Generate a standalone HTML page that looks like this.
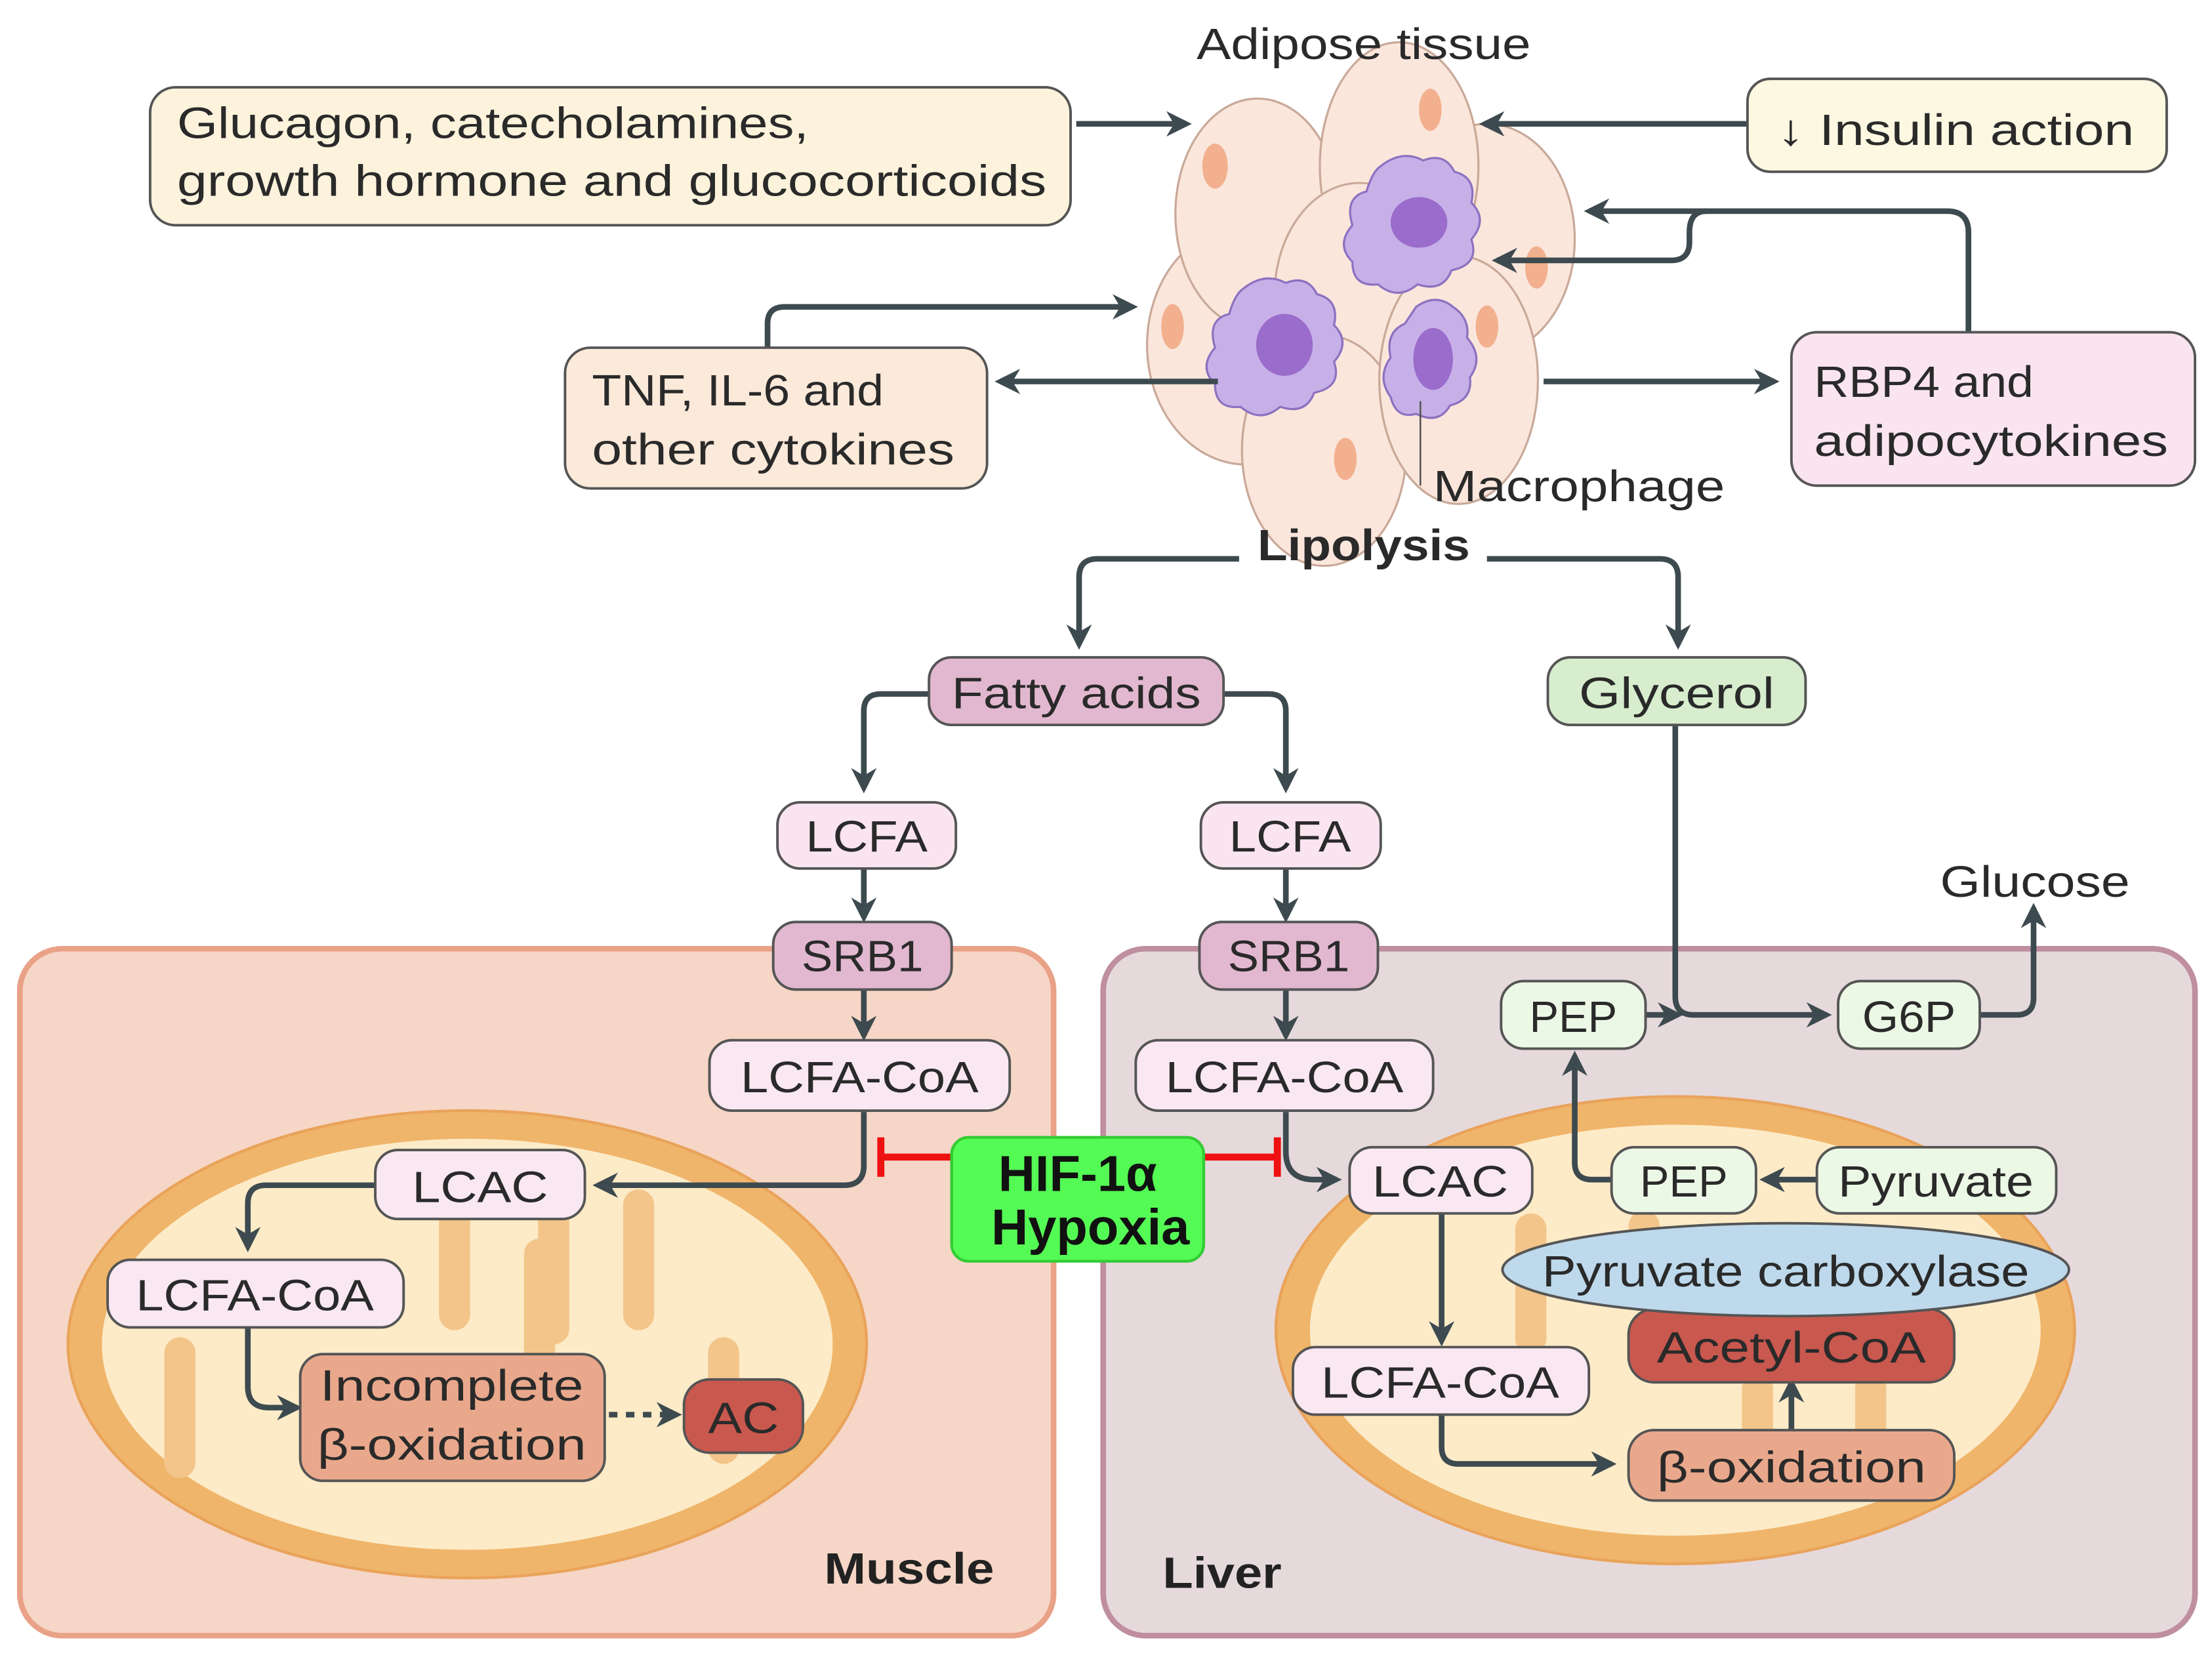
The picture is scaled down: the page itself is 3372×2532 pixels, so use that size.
<!DOCTYPE html>
<html><head><meta charset="utf-8"><style>
html,body{margin:0;padding:0;background:#fff;}
svg{display:block;}
text{font-family:"Liberation Sans",sans-serif;fill:#2a2a2a;}
</style></head><body>
<svg width="3372" height="2532" viewBox="0 0 1562 1180" preserveAspectRatio="none" xmlns="http://www.w3.org/2000/svg">
<defs>
<marker id="ah" viewBox="0 0 10 10" refX="8" refY="5" markerWidth="4.5" markerHeight="4.5" orient="auto"><path d="M0,0 L10,5 L0,10 L3,5 z" fill="#3d4a4f"/></marker>
</defs>
<rect width="1562" height="1180" fill="#fff"/>

<!-- panels -->
<rect x="14" y="674" width="730" height="488" rx="30" fill="#f6d6c6" stroke="#e9a287" stroke-width="4"/>
<rect x="779" y="674" width="771" height="488" rx="30" fill="#e6d9dc" stroke="#bf8ea0" stroke-width="4"/>

<!-- mitochondria -->
<ellipse cx="330" cy="955" rx="282" ry="166" fill="#efb56a" stroke="#e9a35a" stroke-width="2"/>
<ellipse cx="330" cy="955" rx="258" ry="146" fill="#fdebc8"/>
<g fill="#f3c58a">
<rect x="310" y="845" width="22" height="100" rx="11"/><rect x="380" y="845" width="22" height="110" rx="11"/>
<rect x="440" y="845" width="22" height="100" rx="11"/><rect x="116" y="950" width="22" height="100" rx="11"/>
<rect x="370" y="880" width="22" height="90" rx="11"/><rect x="500" y="950" width="22" height="90" rx="11"/>
</g>
<ellipse cx="1183" cy="945" rx="282" ry="166" fill="#efb56a" stroke="#e9a35a" stroke-width="2"/>
<ellipse cx="1183" cy="945" rx="258" ry="146" fill="#fdebc8"/>
<g fill="#f3c58a">
<rect x="1070" y="862" width="22" height="100" rx="11"/><rect x="1230" y="975" width="22" height="90" rx="11"/>
<rect x="1310" y="975" width="22" height="90" rx="11"/><rect x="1150" y="860" width="22" height="40" rx="11"/>
</g>

<!-- adipose cells -->
<g fill="#fbe6dc" stroke="#c9a999" stroke-width="1.5">
<ellipse cx="880" cy="245" rx="70" ry="85"/>
<ellipse cx="1050" cy="170" rx="62" ry="82"/>
<ellipse cx="888" cy="152" rx="58" ry="82"/>
<ellipse cx="988" cy="118" rx="56" ry="88"/>
<ellipse cx="960" cy="210" rx="60" ry="80"/>
<ellipse cx="935" cy="320" rx="58" ry="82"/>
<ellipse cx="1030" cy="270" rx="56" ry="88"/>
</g>
<g fill="#f2b08e">
<ellipse cx="858" cy="118" rx="9" ry="16"/><ellipse cx="1010" cy="78" rx="8" ry="15"/>
<ellipse cx="1085" cy="190" rx="8" ry="15"/><ellipse cx="828" cy="232" rx="8" ry="16"/>
<ellipse cx="950" cy="326" rx="8" ry="15"/><ellipse cx="1050" cy="232" rx="8" ry="15"/>
</g>
<g fill="#c7b0e8" stroke="#8d71c0" stroke-width="1.5">
<path d="M975,118 q15,-12 30,-4 q15,-6 22,8 q16,4 12,22 q12,12 0,26 q6,18 -14,22 q-6,16 -24,10 q-14,12 -28,0 q-18,2 -18,-16 q-12,-12 0,-26 q-6,-20 10,-24 q4,-14 10,-18z"/>
<path d="M878,205 q15,-12 30,-4 q15,-6 22,8 q16,4 12,22 q12,12 0,26 q6,18 -14,22 q-6,16 -24,10 q-14,12 -28,0 q-18,2 -18,-16 q-12,-12 0,-26 q-6,-20 10,-24 q4,-14 10,-18z"/>
<path d="M1000,218 q14,-10 26,0 q12,8 10,22 q12,14 2,28 q2,16 -14,20 q-8,14 -24,6 q-14,4 -18,-12 q-10,-14 0,-28 q-4,-18 10,-24z"/>
</g>
<g fill="#9a6ccb">
<ellipse cx="1002" cy="158" rx="20" ry="18"/><ellipse cx="907" cy="245" rx="20" ry="22"/><ellipse cx="1012" cy="255" rx="14" ry="22"/>
</g>
<line x1="1003" y1="285" x2="1003" y2="345" stroke="#555" stroke-width="1.2"/>

<!-- connectors -->
<g stroke="#3d4a4f" stroke-width="4" fill="none" marker-end="url(#ah)">
<path d="M760,88 H838"/>
<path d="M1234,88 H1048"/>
<path d="M1390,236 V165 q0,-15 -15,-15 H1122"/>
<path d="M1205,150 q-12,0 -12,15 V172 q0,13 -13,13 H1057"/>
<path d="M1090,271 H1253"/>
<path d="M860,271 H706"/>
<path d="M542,247 V230 q0,-12 12,-12 H800"/>
<path d="M875,397 H775 q-13,0 -13,13 V458"/>
<path d="M1050,397 H1172 q13,0 13,13 V458"/>
<path d="M656,493 H622 q-12,0 -12,12 V560"/>
<path d="M864,493 H896 q12,0 12,12 V560"/>
<path d="M610,617 V652"/><path d="M908,617 V652"/>
<path d="M610,703 V736"/><path d="M908,703 V736"/>
<path d="M610,790 V828 q0,14 -14,14 H422"/>
<path d="M265,842 H188 q-13,0 -13,13 V886"/>
<path d="M175,943 V985 q0,15 15,15 H210"/>
<path d="M908,790 V818 q0,20 20,20 H944"/>
<path d="M1018,862 V953"/>
<path d="M1018,1005 V1028 q0,12 12,12 H1138"/>
<path d="M1265,1016 V982"/>
<path d="M1283,838 H1246"/>
<path d="M1138,838 H1124 q-12,0 -12,-12 V750"/>
<path d="M1183,515 V708 q0,13 13,13 H1290"/>
<path d="M1162,721 H1185"/>
<path d="M1398,721 H1424 q12,0 12,-12 V645"/>
</g>
<path d="M430,1005 H478" stroke="#3d4a4f" stroke-width="4" stroke-dasharray="6,6" fill="none" marker-end="url(#ah)"/>

<!-- HIF inhibit -->
<g stroke="#ee1111" stroke-width="5">
<line x1="620" y1="822" x2="672" y2="822"/><line x1="622" y1="808" x2="622" y2="836"/>
<line x1="850" y1="822" x2="903" y2="822"/><line x1="902" y1="808" x2="902" y2="836"/>
</g>
<rect x="672" y="808" width="178" height="88" rx="12" fill="#55fb55" stroke="#33cc33" stroke-width="2"/>
<text x="761" y="846" text-anchor="middle" font-size="36" font-weight="bold" style="fill:#111">HIF-1α</text>
<text x="770" y="884" text-anchor="middle" font-size="36" font-weight="bold" style="fill:#111">Hypoxia</text>

<!-- boxes -->
<g stroke="#555" stroke-width="1.8">
<rect x="106" y="62" width="650" height="98" rx="18" fill="#fdf3dc"/>
<rect x="1234" y="56" width="296" height="66" rx="16" fill="#fdf8e2"/>
<rect x="1265" y="236" width="285" height="109" rx="18" fill="#f9e4ef"/>
<rect x="399" y="247" width="298" height="100" rx="18" fill="#fbe9d9"/>
<rect x="656" y="467" width="208" height="48" rx="16" fill="#e2b8d0"/>
<rect x="1093" y="467" width="182" height="48" rx="16" fill="#d7edce"/>
<rect x="549" y="570" width="126" height="47" rx="16" fill="#f9e4ef"/>
<rect x="848" y="570" width="127" height="47" rx="16" fill="#f9e4ef"/>
<rect x="546" y="655" width="126" height="48" rx="16" fill="#e2b8d0"/>
<rect x="847" y="655" width="126" height="48" rx="16" fill="#e2b8d0"/>
<rect x="501" y="739" width="212" height="50" rx="16" fill="#f9e8f1"/>
<rect x="802" y="739" width="210" height="50" rx="16" fill="#f9e8f1"/>
<rect x="265" y="817" width="148" height="49" rx="16" fill="#f9e8f1"/>
<rect x="76" y="895" width="209" height="48" rx="16" fill="#f9e8f1"/>
<rect x="212" y="962" width="215" height="90" rx="16" fill="#e9a88c"/>
<rect x="483" y="980" width="84" height="52" rx="18" fill="#c9584e"/>
<rect x="953" y="815" width="129" height="47" rx="16" fill="#f9e8f1"/>
<rect x="1138" y="815" width="102" height="47" rx="16" fill="#ecf8e6"/>
<rect x="1283" y="815" width="169" height="47" rx="16" fill="#ecf8e6"/>
<rect x="1060" y="697" width="102" height="48" rx="16" fill="#ecf8e6"/>
<rect x="1298" y="697" width="100" height="48" rx="16" fill="#ecf8e6"/>
<rect x="1150" y="930" width="230" height="52" rx="18" fill="#c9584e"/>
<rect x="1150" y="1016" width="230" height="50" rx="18" fill="#e9a88c"/>
<rect x="913" y="957" width="209" height="48" rx="16" fill="#f9e8f1"/>
<ellipse cx="1261" cy="902" rx="200" ry="33" fill="#bdd9eb"/>
</g>

<!-- text -->
<g font-size="31">
<text x="963" y="42" text-anchor="middle" textLength="236" lengthAdjust="spacingAndGlyphs">Adipose tissue</text>
<text x="125" y="98" textLength="446" lengthAdjust="spacingAndGlyphs">Glucagon, catecholamines,</text>
<text x="125" y="139" textLength="614" lengthAdjust="spacingAndGlyphs">growth hormone and glucocorticoids</text>
<text x="1255" y="103" textLength="252" lengthAdjust="spacingAndGlyphs">↓ Insulin action</text>
<text x="1281" y="282" textLength="155" lengthAdjust="spacingAndGlyphs">RBP4 and</text>
<text x="1281" y="324" textLength="250" lengthAdjust="spacingAndGlyphs">adipocytokines</text>
<text x="418" y="288" textLength="206" lengthAdjust="spacingAndGlyphs">TNF, IL-6 and</text>
<text x="418" y="330" textLength="256" lengthAdjust="spacingAndGlyphs">other cytokines</text>
<text x="1012" y="356" textLength="206" lengthAdjust="spacingAndGlyphs">Macrophage</text>
<text x="963" y="398" text-anchor="middle" font-weight="bold" textLength="150" lengthAdjust="spacingAndGlyphs">Lipolysis</text>
<text x="760" y="503" text-anchor="middle" textLength="176" lengthAdjust="spacingAndGlyphs">Fatty acids</text>
<text x="1184" y="503" text-anchor="middle" textLength="138" lengthAdjust="spacingAndGlyphs">Glycerol</text>
<text x="612" y="605" text-anchor="middle" textLength="86" lengthAdjust="spacingAndGlyphs">LCFA</text>
<text x="911" y="605" text-anchor="middle" textLength="86" lengthAdjust="spacingAndGlyphs">LCFA</text>
<text x="609" y="690" text-anchor="middle" textLength="86" lengthAdjust="spacingAndGlyphs">SRB1</text>
<text x="910" y="690" text-anchor="middle" textLength="86" lengthAdjust="spacingAndGlyphs">SRB1</text>
<text x="607" y="776" text-anchor="middle" textLength="168" lengthAdjust="spacingAndGlyphs">LCFA-CoA</text>
<text x="907" y="776" text-anchor="middle" textLength="168" lengthAdjust="spacingAndGlyphs">LCFA-CoA</text>
<text x="1437" y="637" text-anchor="middle" textLength="134" lengthAdjust="spacingAndGlyphs">Glucose</text>
<text x="1111" y="733" text-anchor="middle" textLength="62" lengthAdjust="spacingAndGlyphs">PEP</text>
<text x="1348" y="733" text-anchor="middle" textLength="66" lengthAdjust="spacingAndGlyphs">G6P</text>
<text x="339" y="854" text-anchor="middle" textLength="96" lengthAdjust="spacingAndGlyphs">LCAC</text>
<text x="180" y="931" text-anchor="middle" textLength="168" lengthAdjust="spacingAndGlyphs">LCFA-CoA</text>
<text x="319" y="995" text-anchor="middle" textLength="186" lengthAdjust="spacingAndGlyphs">Incomplete</text>
<text x="319" y="1037" text-anchor="middle" textLength="190" lengthAdjust="spacingAndGlyphs">β-oxidation</text>
<text x="525" y="1018" text-anchor="middle" textLength="50" lengthAdjust="spacingAndGlyphs">AC</text>
<text x="1017" y="850" text-anchor="middle" textLength="96" lengthAdjust="spacingAndGlyphs">LCAC</text>
<text x="1189" y="850" text-anchor="middle" textLength="62" lengthAdjust="spacingAndGlyphs">PEP</text>
<text x="1367" y="850" text-anchor="middle" textLength="138" lengthAdjust="spacingAndGlyphs">Pyruvate</text>
<text x="1261" y="914" text-anchor="middle" textLength="344" lengthAdjust="spacingAndGlyphs">Pyruvate carboxylase</text>
<text x="1265" y="968" text-anchor="middle" textLength="190" lengthAdjust="spacingAndGlyphs">Acetyl-CoA</text>
<text x="1017" y="993" text-anchor="middle" textLength="168" lengthAdjust="spacingAndGlyphs">LCFA-CoA</text>
<text x="1265" y="1053" text-anchor="middle" textLength="190" lengthAdjust="spacingAndGlyphs">β-oxidation</text>
<text x="642" y="1125" text-anchor="middle" font-weight="bold" textLength="120" lengthAdjust="spacingAndGlyphs" style="fill:#222">Muscle</text>
<text x="863" y="1128" text-anchor="middle" font-weight="bold" textLength="84" lengthAdjust="spacingAndGlyphs" style="fill:#222">Liver</text>
</g>
</svg>
</body></html>
